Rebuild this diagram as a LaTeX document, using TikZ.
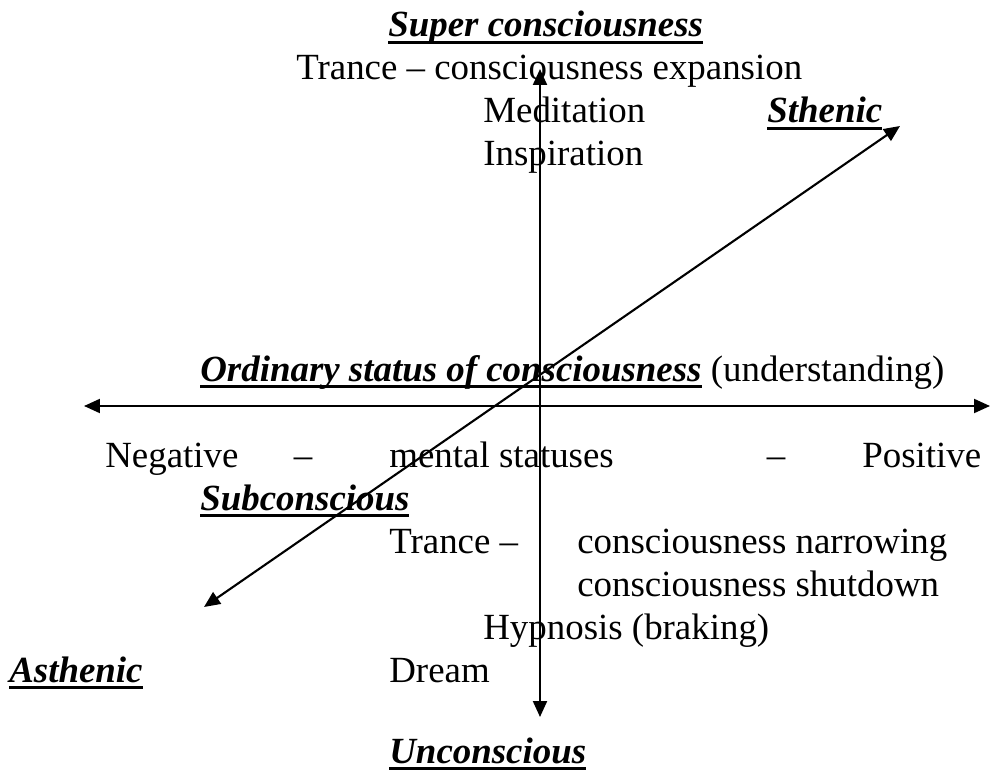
\documentclass[tikz,border=0pt]{standalone}
\usepackage{fontspec}
\setmainfont{Liberation Serif}
\usepackage{tikz}
\usetikzlibrary{arrows.meta}
\newcommand{\ulmark}[1]{\setbox0\hbox{#1}\rlap{\vrule width\wd0 height -0.12em depth 0.2em}\box0\relax}
\newcommand{\keyterm}[1]{\ulmark{\textbf{\textit{#1}}}}

\begin{document}
\begin{tikzpicture}[x=0.02cm, y=-0.02cm, font=\fontsize{21}{25}\selectfont,
    txt/.style={inner sep=0pt, anchor=base west},
    dash mid/.style={inner sep=0pt, anchor=base},
    axis/.style={line width=1.2pt, {Triangle[length=0.32cm,width=0.28cm]}-{Triangle[length=0.32cm,width=0.28cm]}}]
    \useasboundingbox (0,0) rectangle (990,773);

    % upper half
    \node[txt] (super) at (388,37) {\keyterm{Super consciousness}};
    \node[txt] (expand) at (296,80) {Trance -- consciousness expansion};
    \node[txt] (medit) at (483,123) {Meditation};
    \node[txt] (sthenic) at (767,123) {\keyterm{Sthenic}};
    \node[txt] (inspire) at (483,166) {Inspiration};

    % ordinary line and the horizontal scale
    \node[txt] (ordinary) at (200,381) {\keyterm{Ordinary status of consciousness} (understanding)};
    \node[txt] (neg) at (105,467) {Negative};
    \node[dash mid] (dashl) at (303,467) {--};
    \node[txt] (mental) at (389,467) {mental statuses};
    \node[dash mid] (dashr) at (776,467) {--};
    \node[txt] (pos) at (862,467) {Positive};

    % lower half
    \node[txt] (subcon) at (200,510) {\keyterm{Subconscious}};
    \node[txt] (trance) at (389,553) {Trance --};
    \node[txt] (narrow) at (577,553) {consciousness narrowing};
    \node[txt] (shut) at (577,596) {consciousness shutdown};
    \node[txt] (hypno) at (483,639) {Hypnosis (braking)};
    \node[txt] (asthenic) at (9,682) {\keyterm{Asthenic}};
    \node[txt] (dream) at (389,682) {Dream};
    \node[txt] (uncon) at (389,763) {\keyterm{Unconscious}};

    % axes
    \coordinate (top) at (540,69);
    \coordinate (bottom) at (540,717);
    \coordinate (left) at (84,406);
    \coordinate (right) at (990,406);
    \coordinate (up) at (900,126);
    \coordinate (down) at (204,607);
    \draw[axis] (bottom) -- (top);
    \draw[axis] (left) -- (right);
    \draw[axis] (down) -- (up);
\end{tikzpicture}
\end{document}
